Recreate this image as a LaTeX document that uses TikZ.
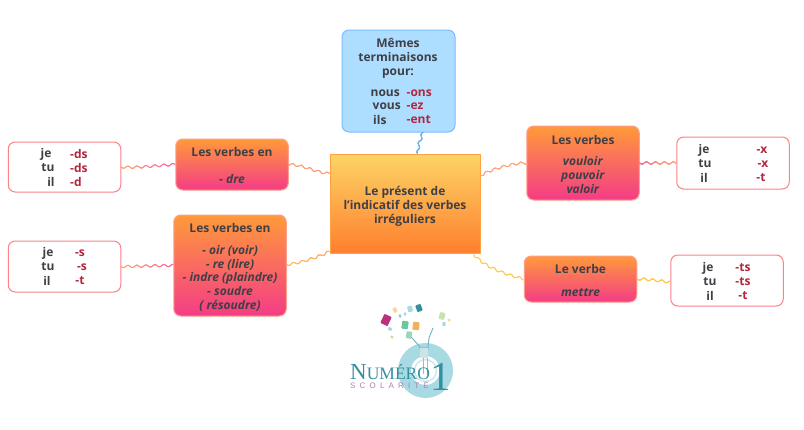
\documentclass[tikz,border=0pt]{standalone}
\usepackage{fontspec}
\setmainfont{Open Sans}
\newfontfamily\logoserif{Liberation Serif}
\newfontfamily\logosans{Liberation Sans}
\usetikzlibrary{decorations.markings}
\definecolor{txt}{HTML}{3F3F46}
\definecolor{endred}{HTML}{B3263E}
\definecolor{gOr}{HTML}{FF9A3A}
\definecolor{gPk}{HTML}{F43C86}
\definecolor{cTop}{HTML}{FCD466}
\definecolor{cBot}{HTML}{FF7F2E}
\definecolor{wOr}{HTML}{FFA66B}
\definecolor{wPk}{HTML}{F765A0}
\definecolor{wYe}{HTML}{FFC94A}
\definecolor{wBl}{HTML}{6DB5EE}
\definecolor{wSa}{HTML}{FF9E8A}
\definecolor{logoT}{HTML}{348FA0}
\definecolor{logoR}{HTML}{A8DAE3}
\definecolor{logoP}{HTML}{B07FAE}
\definecolor{blueB}{HTML}{7DBBFA}
\definecolor{blueF}{HTML}{ADDDFF}
\definecolor{bitm}{HTML}{B8327E}
\definecolor{bitg}{HTML}{6CC6A0}
\definecolor{bito}{HTML}{F2B25A}
\definecolor{bity}{HTML}{F5D9A0}
\definecolor{bitl}{HTML}{C4E3B0}
\tikzset{
  x=1pt,y=-1pt,
  label text/.style={text=txt,font=\fontsize{12}{13.7}\selectfont\bfseries,align=center,inner sep=0pt},
  red text/.style={label text,text=endred},
  boxbase/.style={label text,line width=1pt,rounded corners=7pt,draw},
  centre box/.style={boxbase,rounded corners=0pt,draw=gOr!85!cTop,top color=cTop,bottom color=cBot,minimum width=150pt,minimum height=99pt},
  blue box/.style={boxbase,draw=blueB,fill=blueF,minimum width=113pt,minimum height=102pt},
  verb box/.style={boxbase,draw=wSa,top color=gOr,bottom color=gPk,minimum width=112.5pt},
  end box/.style={boxbase,draw=wPk!55!wOr,fill=white,minimum width=112.5pt},
}
% wavy connector: #1 the curve, colour running from #2 to #3 along it
\newcommand{\wavy}[3]{%
  \path[postaction={decorate},decoration={markings,
      mark=between positions 0 and 1 step 0.005 with {%
        \pgfmathsetmacro\wavep{min(100,(\pgfkeysvalueof{/pgf/decoration/mark info/sequence number}-1)*0.5)}%
        \pgfmathsetmacro\wavey{1.1*sin(40*\pgfkeysvalueof{/pgf/decoration/mark info/distance from start})}%
        \colorlet{wavec}{#3!\wavep!#2}%
        \fill[wavec] (0,\wavey) circle[radius=0.55pt];}}] #1;%
}
\newcommand{\bit}[5]{\fill[#4,rounded corners=0.8pt,rotate around={#5:(#1,#2)}] (#1-#3*0.8,#2-#3) rectangle (#1+#3*0.8,#2+#3);}
\newcommand{\lift}[1]{\rule{0pt}{#1pt}}
\begin{document}
\begin{tikzpicture}
\useasboundingbox (0,0) rectangle (804,429);
% main boxes
\node[centre box] (c) at (405,203.5) {\lift{15}Le présent de\\l’indicatif des verbes\\irréguliers};
\node[blue box] (b) at (398.5,81) {};
\node[verb box,minimum height=51pt] (lt) at (232,164.5) {\lift{11}Les verbes en\\ \\\textit{- dre}};
\node[verb box,minimum height=101pt] (lb) at (230,265.5) {\lift{13}Les verbes en\\[8pt]\textit{- oir (voir)}\\\textit{- re (lire)}\\\textit{- indre (plaindre)}\\\textit{- soudre}\\\textit{( résoudre)}};
\node[verb box,minimum height=74pt] (rt) at (583,163) {\lift{11.5}Les verbes\\[8pt]\textit{vouloir}\\\textit{pouvoir}\\\textit{valoir}};
\node[verb box,minimum height=46pt] (rb) at (580.5,279) {\lift{11.5}Le verbe\\[9pt]\textit{mettre}};
\node[end box,minimum height=50pt] (flt) at (64.5,167) {};
\node[end box,minimum height=51pt] (flb) at (64.5,266.5) {};
\node[end box,minimum height=52pt] (frt) at (733,163) {};
\node[end box,minimum height=51pt] (frb) at (727,280.5) {};
% texts of the blue box
\node[label text] (bt) at (398,58.2) {Mêmes\\terminaisons\\pour:};
\node[label text,anchor=east] (b1) at (400,93) {nous};
\node[label text,anchor=east] (b2) at (401,106.5) {vous};
\node[label text,anchor=west] (b3) at (373,120) {ils};
\node[red text,anchor=west] (b4) at (406.5,93) {-ons};
\node[red text,anchor=west] (b5) at (406.5,106.5) {-ez};
\node[red text,anchor=west] (b6) at (406.5,120) {-ent};
% endings, far left top
\node[label text] (a1) at (46,154.5) {je};
\node[label text] (a2) at (48,168) {tu};
\node[label text] (a3) at (51,182) {il};
\node[red text,anchor=west] (a4) at (70,154) {-ds};
\node[red text,anchor=west] (a5) at (70,168) {-ds};
\node[red text,anchor=west] (a6) at (70,182) {-d};
% endings, far left bottom
\node[label text] (d1) at (48,253.5) {je};
\node[label text] (d2) at (48,267) {tu};
\node[label text] (d3) at (47,281) {il};
\node[red text] (d4) at (80,253) {-s};
\node[red text] (d5) at (82,267) {-s};
\node[red text] (d6) at (80,281) {-t};
% endings, far right top
\node[label text] (e1) at (704,150.5) {je};
\node[label text] (e2) at (705,164) {tu};
\node[label text] (e3) at (704,178) {il};
\node[red text] (e4) at (762,150) {-x};
\node[red text] (e5) at (763,164) {-x};
\node[red text] (e6) at (761,178) {-t};
% endings, far right bottom
\node[label text] (f1) at (708,268.5) {je};
\node[label text] (f2) at (710,282) {tu};
\node[label text] (f3) at (710,296) {il};
\node[red text] (f4) at (743,268) {-ts};
\node[red text] (f5) at (743,282) {-ts};
\node[red text] (f6) at (743,296) {-t};
% connectors
\wavy{([xshift=24.5pt]b.south) .. controls +(-3,8) and +(0,-8) .. ([xshift=13pt]c.north)}{wBl}{wBl}
\wavy{([yshift=30pt]c.west) .. controls +(-14,-1) and +(14,0) .. (lt.east)}{wSa}{wOr}
\wavy{([yshift=-48pt]c.west) .. controls +(-12,6) and +(12,-1) .. ([yshift=1pt]lb.east)}{wOr}{wYe!70!wOr}
\wavy{([yshift=28pt]c.east) .. controls +(8,-5) and +(-15,0) .. (rt.west)}{wSa}{wOr}
\wavy{([xshift=69pt,yshift=-1pt]c.south) .. controls +(10,12) and +(-20,-5) .. (rb.west)}{wYe}{wYe}
\wavy{(flt.east) .. controls +(20,1) and +(-20,1) .. (lt.west)}{wOr}{wPk}
\wavy{(flb.east) .. controls +(20,0) and +(-20,0) .. (lb.west)}{wOr}{wPk}
\wavy{(rt.east) .. controls +(15,0) and +(-15,0) .. (frt.west)}{wPk}{wOr}
\wavy{(rb.east) .. controls +(12,0) and +(-12,-1) .. ([yshift=-1.5pt]frb.west)}{wYe}{wYe}
% logo
\draw[logoR,line width=13pt] (425.5,370.5) circle[radius=21pt];
\draw[logoR!60!white,line width=1.5pt] (425.5,370.5) circle[radius=11pt];
\draw[logoT!70!white,line width=0.9pt,line cap=round,line join=round]
  (407,333) -- (413,339) -- (420,347) -- (421,355) (433,328) -- (429,338) -- (428,347) -- (427,355);
\draw[logoT!55!white,line width=1pt] (420,347) -- (428,347) (423,355) -- (423,374) (427,355) -- (427,374);
\fill[logoT!25!white] (420,348) rectangle (428,358);
\bit{386}{320}{5}{bitm}{-25}
\bit{405}{325}{4}{bitg}{-8}
\bit{416}{326}{4}{bito}{-8}
\bit{419}{308}{3.5}{logoT}{20}
\bit{395}{310}{2.5}{bity}{25}
\bit{410}{309}{3}{logoR}{15}
\bit{405}{314}{1.6}{logoR}{10}
\bit{400}{316}{1.6}{logoT!50!white}{10}
\bit{442}{316}{3.5}{bitl}{-15}
\bit{444}{324}{2}{logoR}{0}
\bit{449}{320}{1.5}{bity}{70}
\bit{392}{337}{1.6}{bitl}{60}
\bit{409}{335}{3.5}{bitg!70!white}{-10}
\bit{390}{329}{2}{logoR}{60}
\node[inner sep=0pt,anchor=base west,text=logoT,font=\logoserif\fontsize{23}{23}\selectfont] (n) at (350,379) {N\fontsize{17.5}{18}\selectfont UMÉRO};
\node[inner sep=0pt,anchor=base,text=logoT,font=\logoserif\fontsize{41}{41}\selectfont] (one) at (441,390) {1};
\node[inner sep=0pt,anchor=base west,text=logoP,font=\logosans\fontsize{8}{8}\selectfont\addfontfeature{LetterSpace=52}] (s) at (350,388) {SCOLARITÉ};
\end{tikzpicture}
\end{document}
